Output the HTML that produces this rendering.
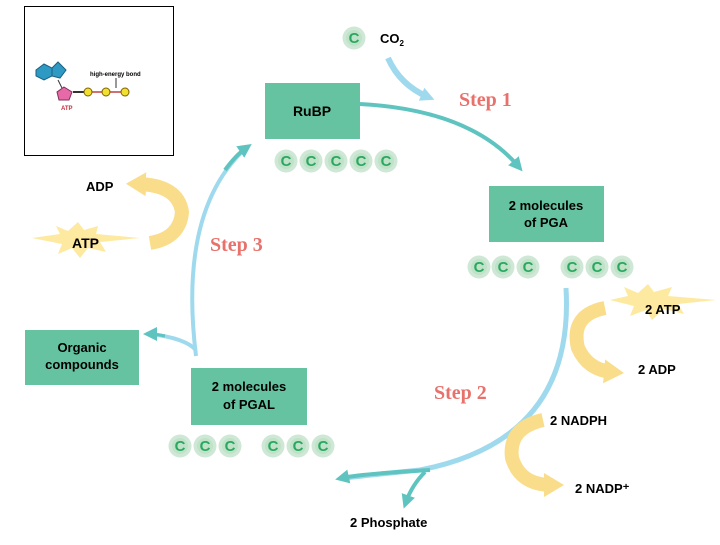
<!DOCTYPE html>
<html><head><style>
body{margin:0;background:#fff}
text{font-family:"Liberation Sans",sans-serif;font-weight:bold}
.s{font-family:"Liberation Serif",serif;fill:#e8716b;font-size:20px;font-weight:bold}
</style></head><body>
<svg width="720" height="540" viewBox="0 0 720 540" xmlns="http://www.w3.org/2000/svg">
<defs>
<marker id="ab" markerWidth="14" markerHeight="14" refX="7" refY="7" orient="auto" markerUnits="userSpaceOnUse"><path d="M0,0 L14,7 L0,14 z" fill="#9fd9ee"/></marker>
<marker id="ay" markerWidth="20" markerHeight="24" refX="8" refY="12" orient="auto" markerUnits="userSpaceOnUse"><path d="M0,0 L20,12 L0,24 z" fill="#f9dd8a"/></marker>
<marker id="at2" markerWidth="14" markerHeight="14" refX="7" refY="7" orient="auto" markerUnits="userSpaceOnUse"><path d="M0,0 L14,7 L0,14 z" fill="#5fc4c0"/></marker>
<g id="c"><circle r="11.5" fill="#cfe8d6"/><circle r="8" fill="#bfe2c8"/><text y="5" text-anchor="middle" font-size="15" fill="#2aa860">C</text></g>
</defs>
<rect x="24.5" y="6.5" width="149" height="149" fill="#fff" stroke="#000"/>
<polygon points="36,70 44,64 52,68 52,76 44,80 36,76" fill="#2e9ac4" stroke="#1a5f80"/>
<polygon points="52,68 58,62 66,70 60,78 52,76" fill="#2e9ac4" stroke="#1a5f80"/>
<line x1="58" y1="80" x2="62" y2="88" stroke="#333"/>
<polygon points="64,87 72,92 69,100 59,100 57,92" fill="#e66aa8" stroke="#80305a"/>
<line x1="73" y1="92" x2="84" y2="92" stroke="#333" stroke-width="2"/>
<path d="M90,92 L103,92 M110,92 L122,92" stroke="#c04040" stroke-width="1.5"/>
<circle cx="88" cy="92" r="4" fill="#f0e030" stroke="#806000"/><circle cx="106" cy="92" r="4" fill="#f0e030" stroke="#806000"/><circle cx="125" cy="92" r="4" fill="#f0e030" stroke="#806000"/>
<text x="90" y="76" font-size="6" font-weight="normal">high-energy bond</text>
<line x1="116" y1="78" x2="116" y2="88" stroke="#333"/>
<text x="61" y="110" font-size="6" fill="#c03040">ATP</text>
<use href="#c" x="354" y="38"/>
<text x="380" y="43" font-size="13">CO<tspan font-size="8" dy="3">2</tspan></text>
<path d="M388,58 Q400,85 428,97" fill="none" stroke="#9fd9ee" stroke-width="6" marker-end="url(#ab)"/>
<text class="s" x="459" y="106">Step 1</text>
<rect x="265" y="83" width="95" height="56" fill="#66c3a1"/>
<text x="312" y="116" font-size="14" text-anchor="middle">RuBP</text>
<use href="#c" x="286" y="161"/><use href="#c" x="311" y="161"/><use href="#c" x="336" y="161"/><use href="#c" x="361" y="161"/><use href="#c" x="386" y="161"/>
<path d="M360,104 Q470,110 518,166" fill="none" stroke="#5fc4c0" stroke-width="4" marker-end="url(#at2)"/>
<rect x="489" y="186" width="115" height="56" fill="#66c3a1"/>
<text x="546" y="210" font-size="13" text-anchor="middle">2 molecules</text>
<text x="546" y="227" font-size="13" text-anchor="middle">of PGA</text>
<use href="#c" x="479" y="267"/><use href="#c" x="503" y="267"/><use href="#c" x="528" y="267"/><use href="#c" x="572" y="267"/><use href="#c" x="597" y="267"/><use href="#c" x="622" y="267"/>
<path d="M566,288 Q575,440 420,470 Q370,475 345,478" fill="none" stroke="#9fd9ee" stroke-width="5"/>
<path d="M430,470 Q360,474 342,478" fill="none" stroke="#5fc4c0" stroke-width="4" marker-end="url(#at2)"/>
<path d="M425,472 Q412,485 406,502" fill="none" stroke="#5fc4c0" stroke-width="4" marker-end="url(#at2)"/>
<text class="s" x="434" y="399">Step 2</text>
<polygon points="610,300 628,296 624,287 638,293 648,284 654,292 672,287 668,296 716,300 678,304 684,314 664,309 652,320 646,310 630,316 634,306" fill="#fde9a0"/>
<text x="645" y="314" font-size="13">2 ATP</text>
<path d="M605,308 Q570,315 578,348 Q588,370 612,372" fill="none" stroke="#f9dd8a" stroke-width="14" marker-end="url(#ay)"/>
<text x="638" y="374" font-size="13">2 ADP</text>
<text x="550" y="425" font-size="13">2 NADPH</text>
<path d="M543,420 Q508,428 512,458 Q520,485 552,485" fill="none" stroke="#f9dd8a" stroke-width="14" marker-end="url(#ay)"/>
<text x="575" y="493" font-size="13">2 NADP⁺</text>
<text x="350" y="527" font-size="13">2 Phosphate</text>
<rect x="191" y="368" width="116" height="57" fill="#66c3a1"/>
<text x="249" y="391" font-size="13" text-anchor="middle">2 molecules</text>
<text x="249" y="409" font-size="13" text-anchor="middle">of PGAL</text>
<use href="#c" x="180" y="446"/><use href="#c" x="205" y="446"/><use href="#c" x="230" y="446"/><use href="#c" x="273" y="446"/><use href="#c" x="298" y="446"/><use href="#c" x="323" y="446"/>
<path d="M196,356 Q178,210 246,148" fill="none" stroke="#9fd9ee" stroke-width="4"/>
<path d="M225,170 Q236,155 246,148" fill="none" stroke="#5fc4c0" stroke-width="4" marker-end="url(#at2)"/>
<path d="M196,350 Q185,338 150,334" fill="none" stroke="#9fd9ee" stroke-width="4"/>
<path d="M165,336 Q156,334 150,334" fill="none" stroke="#5fc4c0" stroke-width="3" marker-end="url(#at2)"/>
<text class="s" x="210" y="251">Step 3</text>
<rect x="25" y="330" width="114" height="55" fill="#66c3a1"/>
<text x="82" y="352" font-size="13" text-anchor="middle">Organic</text>
<text x="82" y="369" font-size="13" text-anchor="middle">compounds</text>
<text x="86" y="191" font-size="13">ADP</text>
<path d="M150,243 Q180,238 182,212 Q178,185 138,184" fill="none" stroke="#f9dd8a" stroke-width="14" marker-end="url(#ay)"/>
<polygon points="32,238 60,234 56,226 68,231 78,222 84,230 98,226 96,234 140,238 100,242 106,252 88,248 80,258 72,248 58,254 62,244" fill="#fde9a0"/>
<text x="72" y="248" font-size="14">ATP</text>
</svg>
</body></html>
